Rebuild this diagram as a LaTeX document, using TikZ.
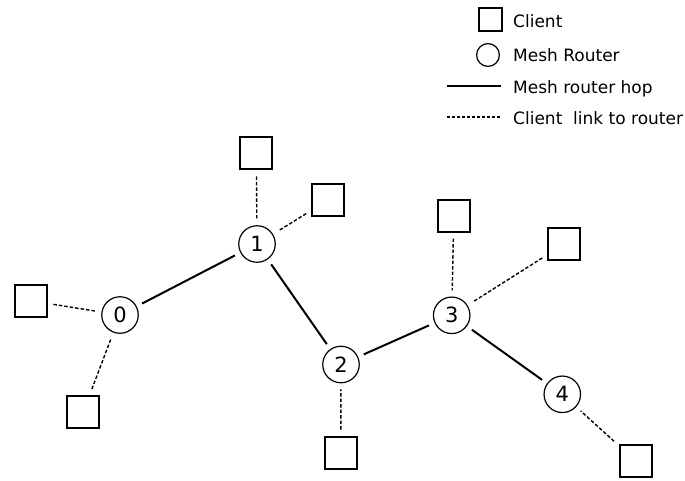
\documentclass[tikz,border=0pt]{standalone}
\usepackage{fontspec}
\setmainfont{DejaVu Sans}
\begin{document}
\begin{tikzpicture}[x=1pt,y=-1pt,
  router/.style={circle,draw,line width=1.2pt,minimum size=36.5pt,inner sep=0pt,font=\fontsize{21}{25}\selectfont},
  client/.style={rectangle,draw,line width=2pt,minimum size=32pt,inner sep=0pt},
  lgclient/.style={rectangle,draw,line width=1.8pt,minimum size=23.3pt,inner sep=0pt},
  lgrouter/.style={circle,draw,line width=1.2pt,minimum size=22.8pt,inner sep=0pt},
  hop/.style={line width=2pt},
  link/.style={line width=1.4pt,dash pattern=on 3.5pt off 2pt},
  gap/.style={shorten >=6pt,shorten <=6pt},
  lgtext/.style={anchor=base west,inner sep=0pt,font=\fontsize{17}{20}\selectfont}]
\useasboundingbox (0,0) rectangle (685,480);

% legend
\node[lgclient] (lc) at (490.5,19.5) {};
\node[lgrouter] (lr) at (488,55) {};
\coordinate (h1) at (447,86);
\coordinate (h2) at (501,86);
\coordinate (d1) at (447,117);
\coordinate (d2) at (501,117);
\draw[hop] (h1) -- (h2);
\draw[line width=1.1pt,dash pattern=on 3pt off 2pt] (d1) -- (d2);
\node[lgtext] (t1) at (513,27) {Client};
\node[lgtext] (t2) at (513,61.5) {Mesh Router};
\node[lgtext] (t3) at (513,93) {Mesh router hop};
\node[lgtext] (t4) at (513,124) {Client\ \ link to router};

% routers
\node[router] (r0) at (120,315) {0};
\node[router] (r1) at (257,244) {1};
\node[router] (r2) at (341,364.5) {2};
\node[router] (r3) at (451.7,315.3) {3};
\node[router] (r4) at (562.3,394.3) {4};

% clients
\node[client] (c1a) at (256.3,153.3) {};
\node[client] (c1b) at (328.3,200) {};
\node[client] (c0a) at (30.5,300.7) {};
\node[client] (c0b) at (83.3,411.7) {};
\node[client] (c2) at (340.8,452.5) {};
\node[client] (c3a) at (453.8,215.7) {};
\node[client] (c3b) at (564.3,244) {};
\node[client] (c4) at (635.5,460.7) {};

% hops
\draw[hop,gap] (r0) -- (r1);
\draw[hop,gap] (r1) -- (r2);
\draw[hop,gap] (r2) -- (r3);
\draw[hop,gap] (r3) -- (r4);

% client links
\draw[link,gap] (c1a) -- (r1);
\draw[link,gap] (c1b) -- (r1);
\draw[link,gap] (c0a) -- (r0);
\draw[link,gap] (c0b) -- (r0);
\draw[link,gap] (c2) -- (r2);
\draw[link,gap] (c3a) -- (r3);
\draw[link,gap] (c3b) -- (r3);
\draw[link,gap] (c4) -- (r4);
\end{tikzpicture}
\end{document}
